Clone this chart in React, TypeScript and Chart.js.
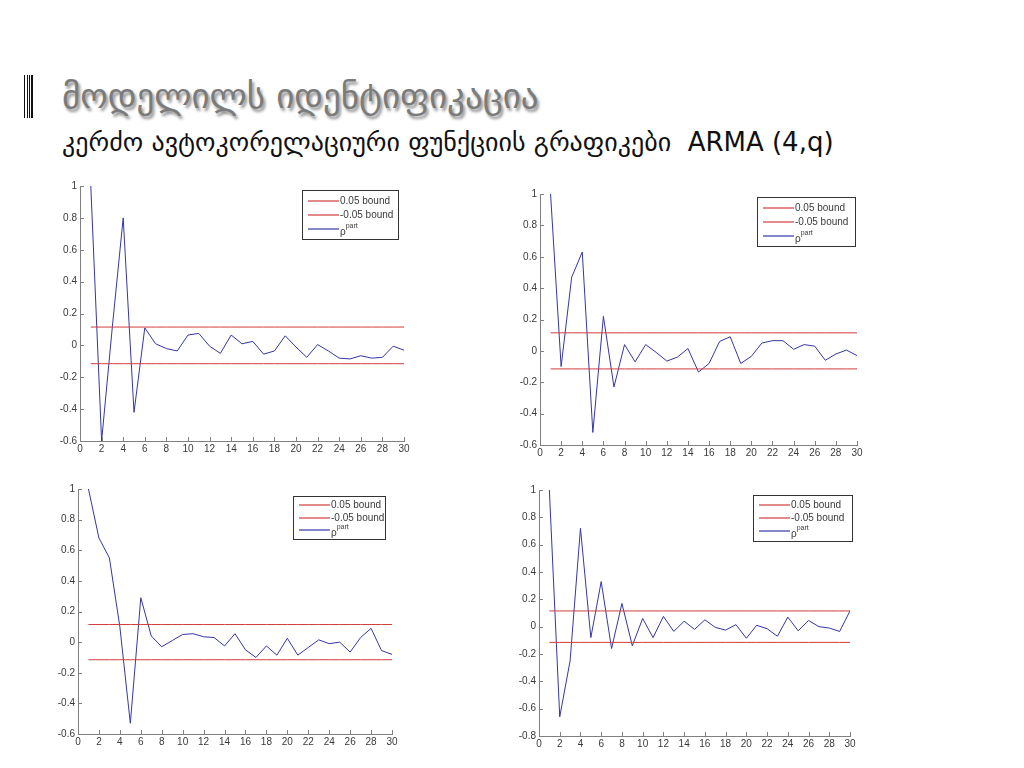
import React, { useEffect, useRef } from "react";
import { Chart, registerables } from "chart.js";
Chart.register(...registerables);

// ---- data ----
const lags = [1, 2, 3, 4, 5, 6, 7, 8, 9, 10, 11, 12, 13, 14, 15, 16, 17, 18, 19, 20, 21, 22, 23, 24, 25, 26, 27, 28, 29, 30];
const xTickValues = [0, 2, 4, 6, 8, 10, 12, 14, 16, 18, 20, 22, 24, 26, 28, 30];
const yTicksA = [-0.6, -0.4, -0.2, 0, 0.2, 0.4, 0.6, 0.8, 1];
const yTicksB = [-0.8, -0.6, -0.4, -0.2, 0, 0.2, 0.4, 0.6, 0.8, 1];
const upperBound = 0.115;
const lowerBound = -0.115;
const legendLabels = ["0.05 bound", "-0.05 bound", "ρ"];
const legendSup = "part";

const pacf1 = [1.0, -0.6, 0.12, 0.8, -0.42, 0.11, 0.01, -0.02, -0.035, 0.065, 0.075, -0.005, -0.05, 0.065, 0.01, 0.025, -0.055, -0.035, 0.06, -0.01, -0.075, 0.005, -0.035, -0.08, -0.085, -0.065, -0.08, -0.075, -0.005, -0.03];
const pacf2 = [1.0, -0.1, 0.47, 0.63, -0.52, 0.22, -0.23, 0.04, -0.07, 0.04, -0.01, -0.065, -0.04, 0.015, -0.135, -0.08, 0.06, 0.09, -0.08, -0.035, 0.05, 0.065, 0.065, 0.01, 0.04, 0.03, -0.06, -0.02, 0.005, -0.03];
const pacf3 = [1.0, 0.68, 0.55, 0.1, -0.53, 0.29, 0.04, -0.03, 0.01, 0.05, 0.055, 0.035, 0.03, -0.025, 0.055, -0.05, -0.1, -0.025, -0.085, 0.025, -0.085, -0.035, 0.015, -0.01, 0.0, -0.065, 0.03, 0.09, -0.055, -0.08];
const pacf4 = [1.0, -0.66, -0.25, 0.72, -0.08, 0.33, -0.16, 0.17, -0.14, 0.06, -0.08, 0.075, -0.035, 0.04, -0.02, 0.05, -0.005, -0.025, 0.015, -0.085, 0.01, -0.015, -0.07, 0.07, -0.03, 0.045, 0.0, -0.01, -0.035, 0.115];

const RED = "#d23c3c";
const BLUE = "#3535a8";
const AXIS = "#808080";
const TXT = "#3a3a3a";
const FONT = "'Liberation Sans', Arial, sans-serif";

type Area = { left: number; top: number; right: number; bottom: number };
type Box = { x: number; y: number; w: number; h: number };

const PAD_L = 40;
const PAD_T = 10;
const PAD_R = 10;
const PAD_B = 20;

function PacfChart(props: { values: number[]; yTicks: number[]; area: Area; legend: Box }) {
  const ref = useRef<HTMLCanvasElement | null>(null);
  const { values, yTicks, area, legend } = props;
  const cLeft = area.left - PAD_L;
  const cTop = area.top - PAD_T;
  const cW = area.right - area.left + PAD_L + PAD_R;
  const cH = area.bottom - area.top + PAD_T + PAD_B;

  useEffect(() => {
    if (!ref.current) return;
    const decor = {
      id: "decor",
      afterDraw(chart: any) {
        const ctx = chart.ctx;
        const ca = chart.chartArea;
        const xs = chart.scales.x;
        const ys = chart.scales.y;
        ctx.save();
        ctx.fillStyle = AXIS;
        xTickValues.forEach((v) => {
          const px = Math.round(xs.getPixelForValue(v));
          ctx.fillRect(px, Math.round(ca.bottom) - 4, 1, 4);
        });
        yTicks.forEach((v) => {
          const py = Math.round(ys.getPixelForValue(v));
          ctx.fillRect(Math.round(ca.left), py, 4, 1);
        });

        // legend box
        const bx = Math.round(legend.x - cLeft);
        const by = Math.round(legend.y - cTop);
        ctx.fillStyle = "#ffffff";
        ctx.fillRect(bx, by, legend.w, legend.h);
        ctx.strokeStyle = "#333333";
        ctx.lineWidth = 1;
        ctx.strokeRect(bx + 0.5, by + 0.5, legend.w, legend.h);
        const rowGap = legend.h / 3.5;
        const colors = [RED, RED, BLUE];
        ctx.font = `10px ${FONT}`;
        ctx.textBaseline = "middle";
        legendLabels.forEach((lab, i) => {
          const ry = Math.round(by + rowGap * (i + 0.75));
          ctx.strokeStyle = colors[i];
          ctx.lineWidth = 1.2;
          ctx.beginPath();
          ctx.moveTo(bx + 6, ry);
          ctx.lineTo(bx + 37, ry);
          ctx.stroke();
          ctx.fillStyle = TXT;
          if (i < 2) {
            ctx.fillText(lab, bx + 38, ry + 0.5);
          } else {
            ctx.fillText(lab, bx + 38, ry + 3);
            const w = ctx.measureText(lab).width;
            ctx.font = `7px ${FONT}`;
            ctx.fillText(legendSup, bx + 38 + w, ry - 3);
            ctx.font = `10px ${FONT}`;
          }
        });
        ctx.restore();
      },
    };

    const chart = new Chart(ref.current, {
      type: "line",
      data: {
        datasets: [
          {
            data: lags.map((l) => ({ x: l, y: upperBound })),
            borderColor: RED,
            borderWidth: 1,
            pointRadius: 0,
          },
          {
            data: lags.map((l) => ({ x: l, y: lowerBound })),
            borderColor: RED,
            borderWidth: 1,
            pointRadius: 0,
          },
          {
            data: lags.map((l, i) => ({ x: l, y: values[i] })),
            borderColor: BLUE,
            borderWidth: 1,
            pointRadius: 0,
            tension: 0,
          },
        ],
      },
      options: {
        responsive: false,
        animation: false,
        layout: { padding: { left: 0, top: PAD_T, right: PAD_R, bottom: 0 } },
        plugins: { legend: { display: false }, tooltip: { enabled: false } },
        scales: {
          x: {
            type: "linear",
            min: 0,
            max: 30,
            afterBuildTicks: (s: any) => {
              s.ticks = xTickValues.map((v) => ({ value: v }));
            },
            afterFit: (s: any) => {
              s.height = PAD_B;
            },
            grid: { display: true, drawOnChartArea: false, drawTicks: false, color: AXIS },
            border: { display: true, color: AXIS, width: 1 },
            ticks: { color: TXT, font: { family: FONT, size: 10 }, padding: 2, maxRotation: 0, autoSkip: false },
          },
          y: {
            type: "linear",
            min: yTicks[0],
            max: yTicks[yTicks.length - 1],
            afterBuildTicks: (s: any) => {
              s.ticks = yTicks.map((v) => ({ value: v }));
            },
            afterFit: (s: any) => {
              s.width = PAD_L;
            },
            grid: { display: true, drawOnChartArea: false, drawTicks: false, color: AXIS },
            border: { display: true, color: AXIS, width: 1 },
            ticks: {
              color: TXT,
              font: { family: FONT, size: 10 },
              padding: 3,
              autoSkip: false,
              callback: (v: any) => String(Math.round(Number(v) * 10) / 10),
            },
          },
        },
      },
      plugins: [decor],
    } as any);
    return () => chart.destroy();
  }, []);

  return (
    <canvas
      ref={ref}
      width={cW}
      height={cH}
      style={{ position: "absolute", left: cLeft, top: cTop, width: cW, height: cH }}
    />
  );
}

export default function App() {
  const bars = [
    { x: 24, w: 1 },
    { x: 26.5, w: 1 },
    { x: 28.5, w: 1.5 },
    { x: 30.5, w: 2.5 },
  ];
  return (
    <div style={{ position: "absolute", left: 0, top: 0, width: 1024, height: 768, background: "#ffffff", overflow: "hidden" }}>
      {bars.map((b, i) => (
        <div key={i} style={{ position: "absolute", left: b.x, top: 75, width: b.w, height: 43, background: "#111" }} />
      ))}
      <div
        style={{
          position: "absolute",
          left: 62,
          top: 73,
          fontFamily: "'DejaVu Sans', sans-serif",
          fontSize: 35,
          color: "#7b7b7b",
          whiteSpace: "nowrap",
          textShadow: "2px 3px 3px rgba(0,0,0,0.45)",
          lineHeight: "46px",
        }}
      >
        მოდელილს იდენტიფიკაცია
      </div>
      <div
        style={{
          position: "absolute",
          left: 62,
          top: 126,
          fontFamily: "'DejaVu Sans', sans-serif",
          fontSize: 26,
          color: "#111",
          whiteSpace: "nowrap",
          lineHeight: "32px",
        }}
      >
        კერძო ავტოკორელაციური ფუნქციის გრაფიკები&nbsp; ARMA (4,q)
      </div>
      <PacfChart values={pacf1} yTicks={yTicksA} area={{ left: 80, top: 186, right: 404, bottom: 441 }} legend={{ x: 302, y: 190, w: 96, h: 49 }} />
      <PacfChart values={pacf2} yTicks={yTicksA} area={{ left: 540, top: 194, right: 857, bottom: 445 }} legend={{ x: 757, y: 197, w: 98, h: 49 }} />
      <PacfChart values={pacf3} yTicks={yTicksA} area={{ left: 78, top: 489, right: 392, bottom: 734 }} legend={{ x: 293, y: 496, w: 92, h: 43 }} />
      <PacfChart values={pacf4} yTicks={yTicksB} area={{ left: 539, top: 490, right: 850, bottom: 736 }} legend={{ x: 753, y: 495, w: 99, h: 46 }} />
    </div>
  );
}
